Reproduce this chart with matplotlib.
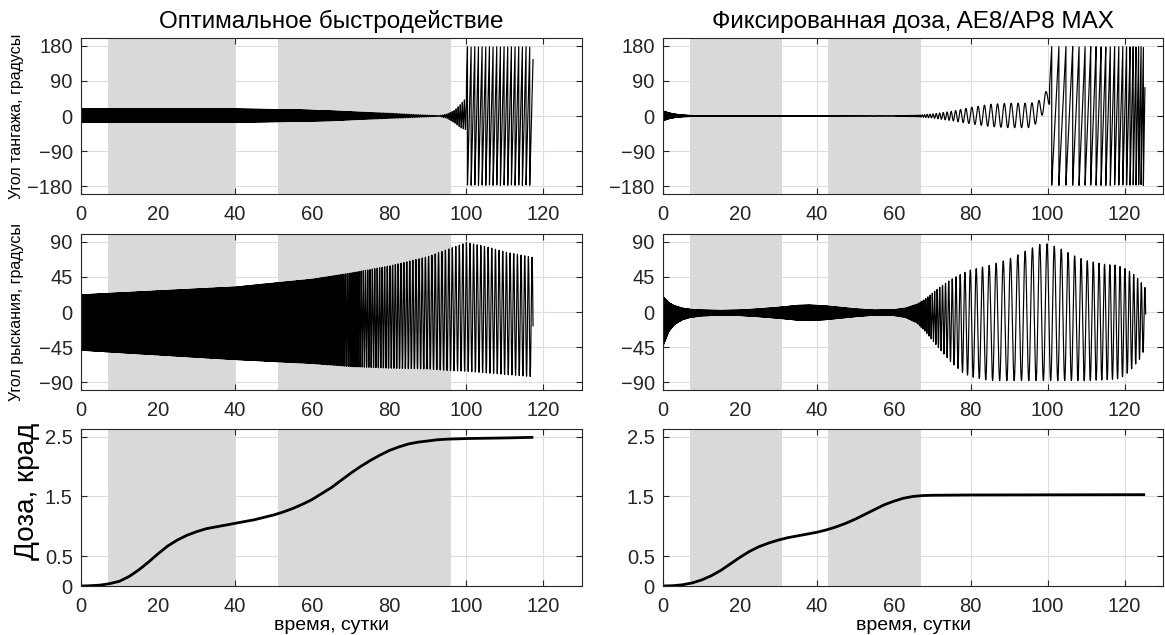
import matplotlib
matplotlib.use('Agg')
import matplotlib.pyplot as plt
import numpy as np

plt.rcParams['font.family'] = ['Liberation Sans', 'DejaVu Sans']

# ── данные: освещённые участки (серые полосы) ──
shade_opt = [(7, 40), (51, 96)]
shade_fix = [(7, 31), (43, 67)]

# ── доза, крад ──
dose_opt_t = [0, 2.5, 5, 7.5, 10, 12.5, 15, 17.5, 20, 22.5, 25, 27.5, 30, 32.5, 35, 37.5,
              40, 42.5, 45, 47.5, 50, 52.5, 55, 57.5, 60, 62.5, 65, 67.5, 70, 72.5, 75,
              77.5, 80, 82.5, 85, 87.5, 90, 92.5, 95, 100, 105, 110, 117]
dose_opt_v = [0, 0.005, 0.015, 0.04, 0.08, 0.16, 0.27, 0.40, 0.54, 0.67, 0.77, 0.85, 0.91,
              0.96, 0.99, 1.02, 1.05, 1.08, 1.11, 1.15, 1.19, 1.24, 1.30, 1.37, 1.45, 1.55,
              1.65, 1.77, 1.89, 2.00, 2.10, 2.19, 2.27, 2.33, 2.38, 2.41, 2.43, 2.45, 2.46,
              2.47, 2.475, 2.48, 2.49]
dose_fix_t = [0, 2.5, 5, 7.5, 10, 12.5, 15, 17.5, 20, 22.5, 25, 27.5, 30, 32.5, 35, 37.5,
              40, 42.5, 45, 47.5, 50, 52.5, 55, 57.5, 60, 62.5, 65, 67.5, 70, 80, 125]
dose_fix_v = [0, 0.005, 0.02, 0.05, 0.10, 0.17, 0.26, 0.37, 0.48, 0.58, 0.66, 0.72, 0.77,
              0.81, 0.84, 0.87, 0.90, 0.94, 0.99, 1.05, 1.12, 1.20, 1.28, 1.36, 1.42, 1.47,
              1.50, 1.515, 1.52, 1.525, 1.53]

# ── угол тангажа, оптимальное быстродействие: огибающие и период колебаний ──
p_opt_env_t = [0, 20, 40, 55, 65, 72, 80, 86, 90, 93, 95, 97, 98.5, 99.8]
p_opt_hi = [19, 19, 18, 16, 13, 10, 7, 4, 2, 1, 5, 15, 30, 45]
p_opt_lo = [-16, -16, -16, -14, -12, -9, -6, -4, -2, -1, -6, -18, -30, -35]
p_opt_per_t = [0, 60, 75, 85, 95, 99.8, 100, 117.3]
p_opt_per_v = [0.1, 0.12, 0.3, 0.45, 0.5, 0.55, 0.95, 0.95]
p_opt_tumble = 100.0
p_opt_end = 117.3

# ── угол тангажа, фиксированная доза ──
p_fix_env_t = [0, 1.5, 3, 5, 8, 15, 60, 66, 70, 75, 80, 85, 90, 95, 97, 98.5, 100]
p_fix_hi = [13, 8, 5, 2.5, 1, 0.5, 0.5, 2, 5, 12, 22, 30, 33, 33, 35, 45, 70]
p_fix_lo = [-12, -7, -4, -2, -1, -0.5, -0.5, -2, -5, -12, -20, -27, -30, -30, -20, 0, 30]
p_fix_per_t = [0, 10, 60, 66, 70, 75, 80, 90, 100, 100.5, 105, 110, 115, 120, 123, 125.3]
p_fix_per_v = [0.08, 0.1, 0.2, 0.5, 0.8, 1.1, 1.6, 1.8, 1.8, 1.9, 1.8, 1.5, 1.2, 1.0, 0.7, 0.55]
p_fix_tumble = 100.5
p_fix_end = 125.3

# ── угол рыскания, оптимальное быстродействие ──
y_opt_env_t = [0, 20, 40, 60, 70, 80, 90, 95, 100, 105, 110, 117.3]
y_opt_hi = [22, 27, 32, 42, 50, 59, 71, 80, 89, 84, 77, 70]
y_opt_lo = [-49, -55, -61, -66, -70, -72, -73, -75, -76, -78, -80, -83]
y_opt_per_t = [0, 50, 62, 68, 75, 85, 95, 105, 117.3]
y_opt_per_v = [0.12, 0.15, 0.3, 0.45, 0.6, 0.78, 0.9, 0.95, 0.95]
y_opt_end = 117.3

# ── угол рыскания, фиксированная доза ──
y_fix_env_t = [0, 1.5, 3, 5, 7, 10, 15, 20, 25, 30, 35, 38, 42, 46, 50, 55, 60, 63, 66, 68,
               70, 72, 75, 78, 80, 85, 90, 95, 99, 103, 107, 110, 115, 118, 120, 122, 124, 125.5]
y_fix_hi = [20, 12, 8, 5, 3.5, 2.5, 2, 2.5, 4, 6, 8.5, 9, 8, 6, 4, 2.5, 3, 5, 10, 16,
            24, 32, 42, 50, 54, 60, 68, 80, 89, 82, 72, 66, 61, 60, 56, 50, 40, 30]
y_fix_lo = [-44, -25, -16, -10, -7, -5, -4, -4.5, -6, -8, -10.5, -11, -10, -8, -6, -4, -4.5,
            -7, -14, -24, -36, -48, -65, -78, -83, -88, -88, -88, -88, -88, -88, -88, -87,
            -86, -82, -72, -60, -45]
y_fix_per_t = [0, 60, 65, 68, 72, 76, 80, 85, 90, 100, 110, 115, 120, 123, 125.5]
y_fix_per_v = [0.1, 0.15, 0.3, 0.5, 0.7, 1.0, 1.5, 1.8, 1.9, 1.9, 1.6, 1.4, 1.25, 1.0, 0.9]
y_fix_end = 125.5


def wave(t_end, env_t, hi, lo, per_t, per_v, tumble=None, dt=0.004):
    t = np.arange(0, t_end, dt)
    per = np.interp(t, per_t, per_v)
    ph = np.concatenate([[0], np.cumsum(dt / per[:-1])])
    h = np.interp(t, env_t, hi)
    l = np.interp(t, env_t, lo)
    y = (h + l) / 2 + (h - l) / 2 * np.cos(2 * np.pi * ph)
    if tumble is not None:
        m = t >= tumble
        saw = -178 + 356 * ((ph - ph[m][0] + 0.7) % 1)
        y[m] = saw[m]
    return t, y


fig = plt.figure(figsize=(11.65, 6.35), dpi=100)
W, H = 1165, 635
cols = [81, 663]
widths = [501, 500]
rows = [(38, 194), (234, 390), (429, 586)]
axes = [[None, None] for _ in range(3)]
for r, (top, bot) in enumerate(rows):
    for c in range(2):
        axes[r][c] = fig.add_axes([cols[c] / W, 1 - bot / H, widths[c] / W, (bot - top) / H])

FS = 14.5
for r in range(3):
    for c in range(2):
        ax = axes[r][c]
        for a, b in (shade_opt if c == 0 else shade_fix):
            ax.axvspan(a, b, color='#d9d9d9', lw=0, zorder=1)
        ax.set_xlim(0, 130)
        ax.set_xticks(range(0, 121, 20))
        ax.set_axisbelow(True)
        ax.grid(True, color='#dedede', lw=0.8)
        ax.tick_params(direction='in', top=True, right=True, length=4, width=0.8,
                       labelsize=FS, colors='#262626')
        ax.tick_params(axis='y', pad=6)
        ax.tick_params(axis='x', pad=8)
        for s in ax.spines.values():
            s.set_color('#262626')
            s.set_linewidth(0.8)

# тангаж
t, y = wave(p_opt_end, p_opt_env_t, p_opt_hi, p_opt_lo, p_opt_per_t, p_opt_per_v, p_opt_tumble)
axes[0][0].plot(t, y, color='black', lw=0.85, zorder=2)
t, y = wave(p_fix_end, p_fix_env_t, p_fix_hi, p_fix_lo, p_fix_per_t, p_fix_per_v, p_fix_tumble)
axes[0][1].plot(t, y, color='black', lw=0.85, zorder=2)
for ax in axes[0]:
    ax.set_ylim(-200, 200)
    ax.set_yticks([-180, -90, 0, 90, 180])

# рыскание
t, y = wave(y_opt_end, y_opt_env_t, y_opt_hi, y_opt_lo, y_opt_per_t, y_opt_per_v)
axes[1][0].plot(t, y, color='black', lw=0.85, zorder=2)
t, y = wave(y_fix_end, y_fix_env_t, y_fix_hi, y_fix_lo, y_fix_per_t, y_fix_per_v)
axes[1][1].plot(t, y, color='black', lw=0.85, zorder=2)
for ax in axes[1]:
    ax.set_ylim(-100, 100)
    ax.set_yticks([-90, -45, 0, 45, 90])

# доза
axes[2][0].plot(dose_opt_t, dose_opt_v, color='black', lw=2.0, zorder=2)
axes[2][1].plot(dose_fix_t, dose_fix_v, color='black', lw=2.0, zorder=2)
for ax in axes[2]:
    ax.set_ylim(0, 2.63)
    ax.set_yticks([0, 0.5, 1.5, 2.5])
    ax.set_yticklabels(['0', '0.5', '1.5', '2.5'])
    ax.set_xlabel('время, сутки', fontsize=14, labelpad=1)

axes[0][0].set_title('Оптимальное быстродействие', fontsize=17.5, pad=7)
axes[0][1].set_title('Фиксированная доза, AE8/AP8 MAX', fontsize=17.5, pad=7)

axes[0][0].set_ylabel('Угол тангажа, градусы', fontsize=11.5)
axes[0][0].yaxis.set_label_coords(-0.113, 0.5)
axes[1][0].set_ylabel('Угол рыскания, градусы', fontsize=11.5)
axes[1][0].yaxis.set_label_coords(-0.113, 0.5)
axes[2][0].set_ylabel('Доза, крад', fontsize=20)
axes[2][0].yaxis.set_label_coords(-0.082, 0.6)

plt.savefig('out.png', dpi=100, facecolor='white')
